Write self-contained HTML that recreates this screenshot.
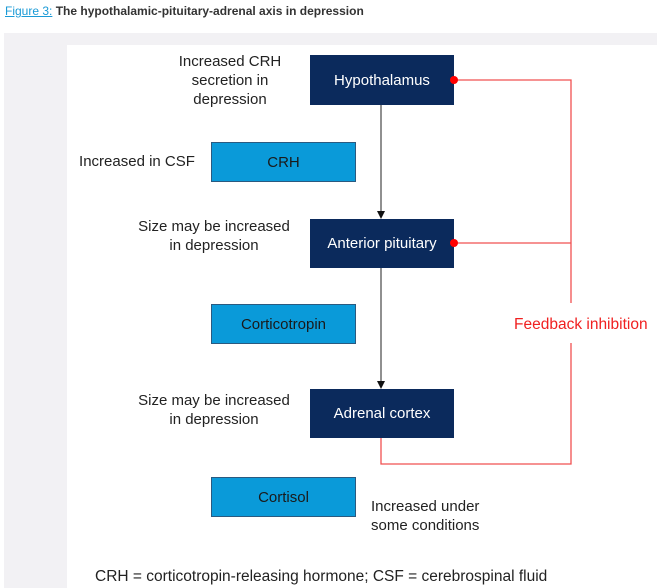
<!DOCTYPE html>
<html><head><meta charset="utf-8"><style>
body{margin:0;width:657px;height:588px;background:#fff;position:relative;overflow:hidden;font-family:"Liberation Sans",Arial,sans-serif}
.a{position:absolute}
.t{position:absolute;font-size:15px;color:#222;text-align:center;line-height:19px}
.nv{position:absolute;background:#0b2a5c;color:#fff;font-size:15px;display:flex;align-items:center;justify-content:center}
.lb{position:absolute;background:#0a9ad9;border:1px solid #2a5a80;box-sizing:border-box;color:#1a1a1a;font-size:15px;display:flex;align-items:center;justify-content:center}
</style></head><body>
<div class="a" style="left:5px;top:4px;font-size:12px;font-weight:bold;color:#333"><span style="color:#1a9ad6;font-weight:normal;text-decoration:underline">Figure 3:</span> The hypothalamic-pituitary-adrenal axis in depression</div>
<div class="a" style="left:4px;top:33px;width:653px;height:555px;background:#f2f1f4"></div>
<div class="a" style="left:67px;top:45px;width:590px;height:543px;background:#fff"></div>
<svg class="a" style="left:0;top:0" width="657" height="588">
<g stroke="#222" stroke-width="1"><line x1="381" y1="105" x2="381" y2="213"/><line x1="381" y1="268" x2="381" y2="383"/></g>
<polygon points="377,211 385,211 381,219" fill="#111"/>
<polygon points="377,381 385,381 381,389" fill="#111"/>
<g stroke="#f05050" stroke-width="1.3" fill="none">
<polyline points="453,80 571,80 571,303"/><line x1="453" y1="243" x2="571" y2="243"/>
<polyline points="571,343 571,464 381,464 381,438"/></g>
</svg>
<div class="nv" style="left:310px;top:55px;width:144px;height:50px">Hypothalamus</div>
<div class="nv" style="left:310px;top:219px;width:144px;height:49px">Anterior pituitary</div>
<div class="nv" style="left:310px;top:389px;width:144px;height:49px">Adrenal cortex</div>
<svg class="a" style="left:0;top:0" width="657" height="588">
<circle cx="454" cy="80" r="4" fill="#f00"/><circle cx="454" cy="243" r="4" fill="#f00"/>
</svg>
<div class="lb" style="left:211px;top:142px;width:145px;height:40px">CRH</div>
<div class="lb" style="left:211px;top:304px;width:145px;height:40px">Corticotropin</div>
<div class="lb" style="left:211px;top:477px;width:145px;height:40px">Cortisol</div>
<div class="t" style="left:170px;top:52px;width:120px">Increased CRH<br>secretion in<br>depression</div>
<div class="t" style="left:70px;top:152px;width:134px">Increased in CSF</div>
<div class="t" style="left:124px;top:217px;width:180px">Size may be increased<br>in depression</div>
<div class="t" style="left:124px;top:391px;width:180px">Size may be increased<br>in depression</div>
<div class="t" style="left:371px;top:497px;text-align:left">Increased under<br>some conditions</div>
<div class="t" style="left:514px;top:315px;color:#f02020;text-align:left;font-size:15.5px">Feedback inhibition</div>
<div class="t" style="left:95px;top:567px;text-align:left;font-size:15.5px">CRH = corticotropin-releasing hormone; CSF = cerebrospinal fluid</div>
</body></html>
